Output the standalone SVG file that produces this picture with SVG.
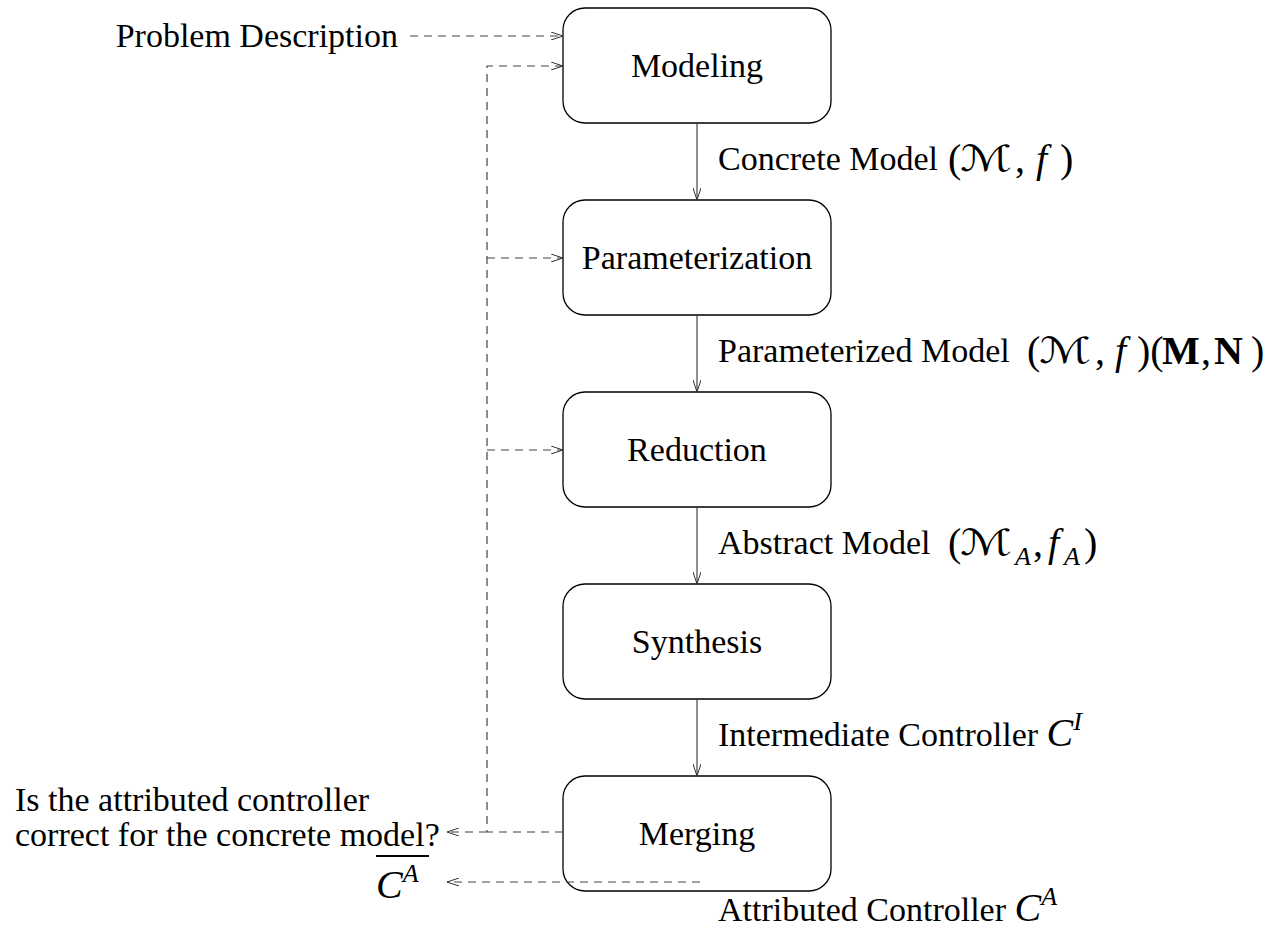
<svg xmlns="http://www.w3.org/2000/svg" width="1278" height="937" viewBox="0 0 1278 937">
  <style>
    text { font-family: "Liberation Serif", "Times New Roman", serif; font-size: 34px; fill: #000; }
    .node rect { fill: #fff; stroke: #000; stroke-width: 1.3; }
    .node text { text-anchor: middle; }
    .flow { stroke: #333; stroke-width: 1.1; fill: none; }
    .dash { stroke: #444; stroke-width: 1.2; fill: none; stroke-dasharray: 8 6; }
    .m { font-size: 40px; }
    .it { font-style: italic; }
    .bf { font-weight: bold; }
    .cal { font-family: "DejaVu Serif", "DejaVu Sans", serif; font-size: 36px; }
    .sub { font-size: 26px; font-style: italic; }
  </style>
  <defs>
    <marker id="open" viewBox="0 0 12 8" refX="12" refY="4" markerWidth="12" markerHeight="8" markerUnits="userSpaceOnUse" orient="auto">
      <path d="M0,0 L12,4 L0,8" fill="none" stroke="#333" stroke-width="1"/>
    </marker>
  </defs>

  <!-- process steps -->
  <g id="modeling" class="node">
    <rect x="563" y="8" width="268" height="115" rx="22"/>
    <text x="697" y="77">Modeling</text>
  </g>
  <g id="parameterization" class="node">
    <rect x="563" y="200" width="268" height="115" rx="22"/>
    <text x="697" y="269">Parameterization</text>
  </g>
  <g id="reduction" class="node">
    <rect x="563" y="392" width="268" height="115" rx="22"/>
    <text x="697" y="461">Reduction</text>
  </g>
  <g id="synthesis" class="node">
    <rect x="563" y="584" width="268" height="115" rx="22"/>
    <text x="697" y="653">Synthesis</text>
  </g>
  <g id="merging" class="node">
    <rect x="563" y="776" width="268" height="115" rx="22"/>
    <text x="697" y="845">Merging</text>
  </g>

  <!-- connectors -->
  <g id="connectors">
    <line class="flow" x1="697" y1="123" x2="697" y2="200" marker-end="url(#open)"/>
    <line class="flow" x1="697" y1="315" x2="697" y2="392" marker-end="url(#open)"/>
    <line class="flow" x1="697" y1="507" x2="697" y2="584" marker-end="url(#open)"/>
    <line class="flow" x1="697" y1="699" x2="697" y2="776" marker-end="url(#open)"/>

    <line class="dash" x1="410" y1="36" x2="563" y2="36" marker-end="url(#open)"/>
    <path class="dash" d="M563,832 H487 V66 H563" marker-end="url(#open)"/>
    <line class="dash" x1="487" y1="258" x2="563" y2="258" marker-end="url(#open)"/>
    <line class="dash" x1="487" y1="450" x2="563" y2="450" marker-end="url(#open)"/>
    <line class="dash" x1="487" y1="832" x2="447" y2="832" marker-end="url(#open)"/>
    <line class="dash" x1="700" y1="882" x2="447" y2="882" marker-end="url(#open)"/>
  </g>

  <!-- labels -->
  <g id="labels">
    <text x="398" y="47" text-anchor="end">Problem Description</text>

    <text x="718" y="170">Concrete Model</text>
    <text class="m" x="948" y="172">(</text>
    <text class="cal" x="960" y="171" textLength="52" lengthAdjust="spacingAndGlyphs">ℳ</text>
    <text class="m" x="1015" y="172">,</text>
    <text class="m it" x="1036" y="172">f</text>
    <text class="m" x="1060" y="172">)</text>

    <text x="718" y="362">Parameterized Model</text>
    <text class="m" x="1027" y="364">(</text>
    <text class="cal" x="1039" y="363" textLength="52" lengthAdjust="spacingAndGlyphs">ℳ</text>
    <text class="m" x="1095" y="364">,</text>
    <text class="m it" x="1115" y="364">f</text>
    <text class="m" x="1137" y="364">)(</text>
    <text class="m bf" x="1162" y="364">M</text>
    <text class="m" x="1201" y="364">,</text>
    <text class="m bf" x="1214" y="364">N</text>
    <text class="m" x="1251" y="364">)</text>

    <text x="718" y="554">Abstract Model</text>
    <text class="m" x="948" y="556">(</text>
    <text class="cal" x="960" y="555" textLength="52" lengthAdjust="spacingAndGlyphs">ℳ</text>
    <text class="sub" x="1015" y="565">A</text>
    <text class="m" x="1033" y="556">,</text>
    <text class="m it" x="1048" y="556">f</text>
    <text class="sub" x="1064" y="565">A</text>
    <text class="m" x="1084" y="556">)</text>

    <text x="718" y="746">Intermediate Controller <tspan class="m it">C</tspan><tspan class="sub" dy="-16">I</tspan></text>

    <text x="15" y="811">Is the attributed controller</text>
    <text x="15" y="846">correct for the concrete model?</text>

    <text x="376" y="898"><tspan class="m it">C</tspan><tspan class="sub" dy="-16">A</tspan></text>
    <line x1="376" y1="856" x2="429" y2="856" stroke="#000" stroke-width="2"/>

    <text x="718" y="921">Attributed Controller <tspan class="m it">C</tspan><tspan class="sub" dy="-16">A</tspan></text>
  </g>
</svg>
